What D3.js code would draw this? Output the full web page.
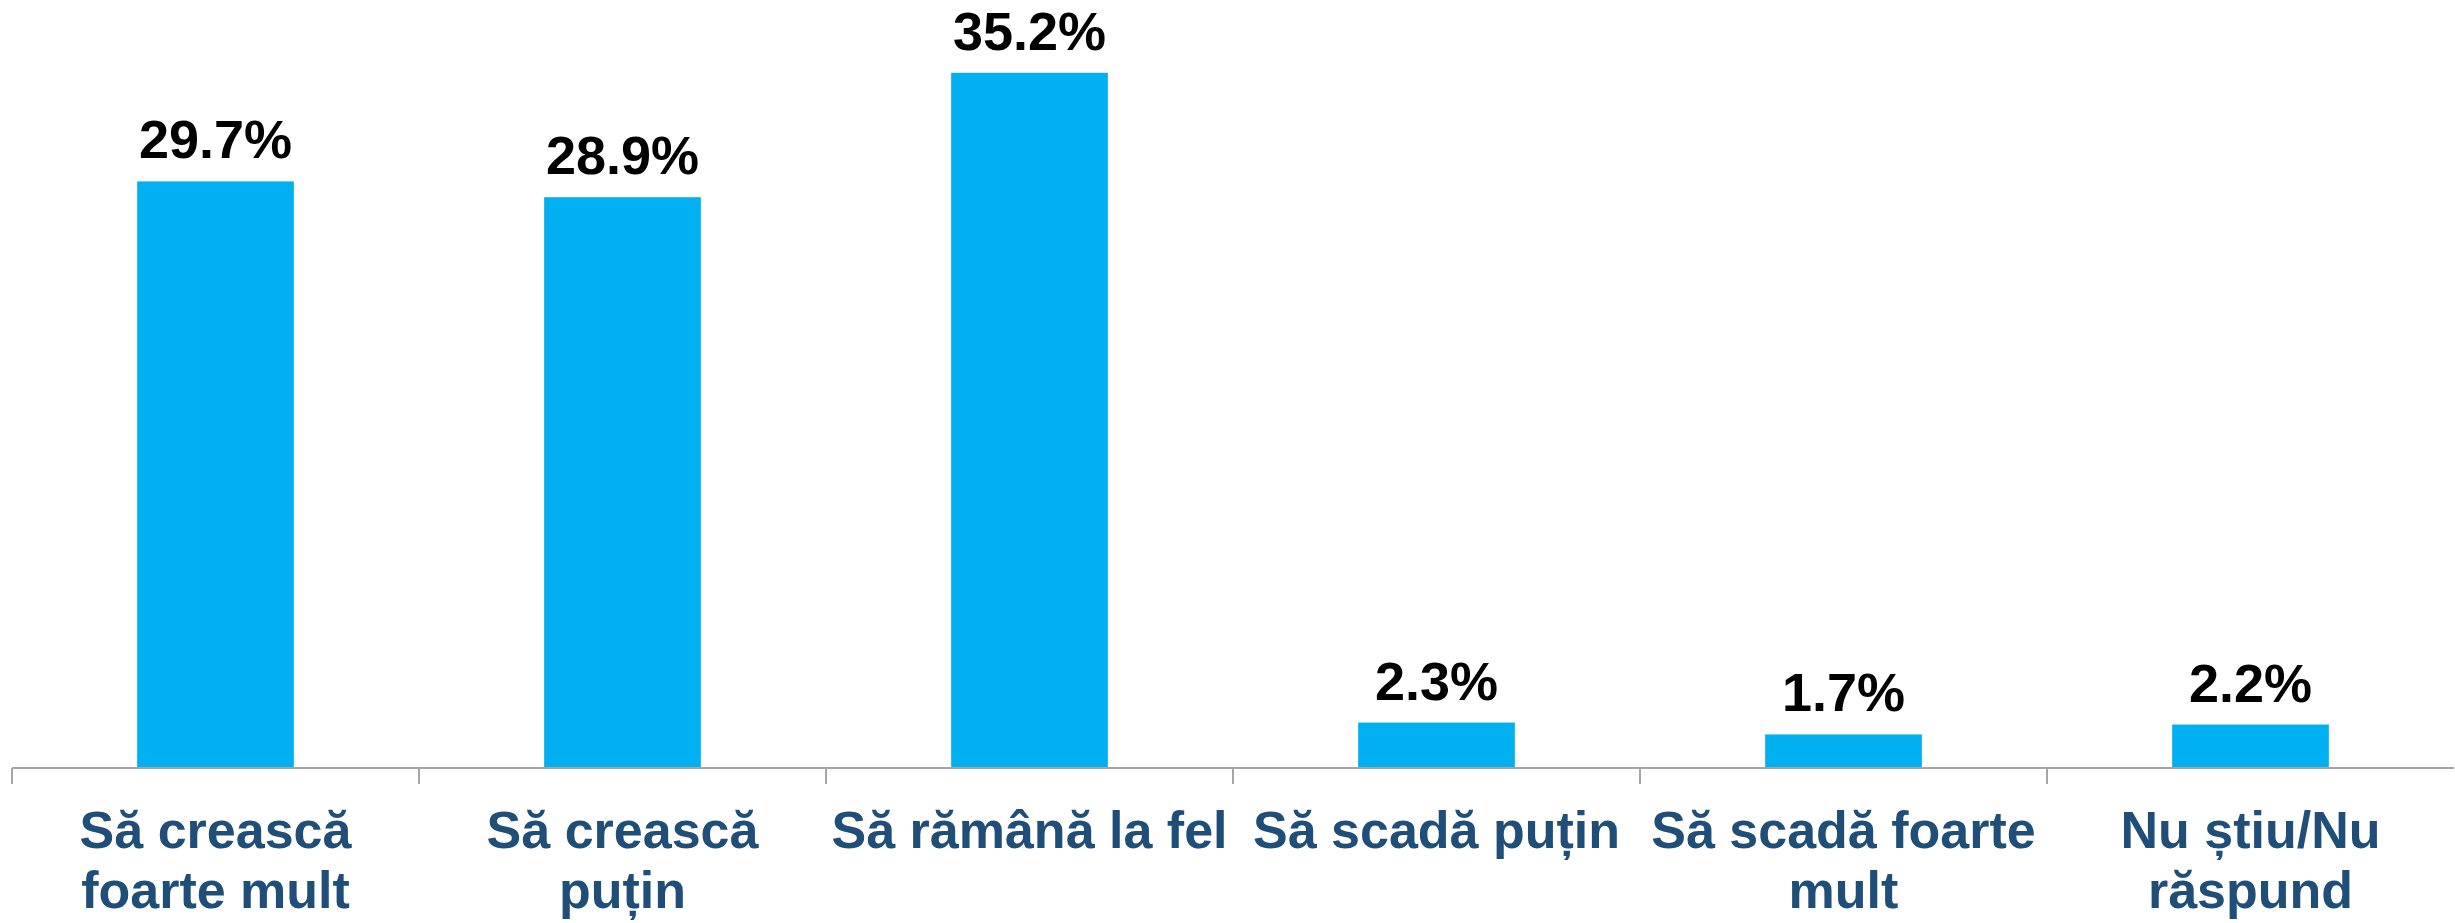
<!DOCTYPE html>
<html>
<head>
<meta charset="utf-8">
<script src="https://cdn.jsdelivr.net/npm/d3@7"></script>
<style>
  body { margin: 0; background: #fff; }
  text { font-family: "Liberation Sans", Arial, sans-serif; font-weight: bold; }
</style>
</head>
<body>
<div id="chart-area"></div>
<script>
// Data
var categories = ["Să crească\nfoarte mult", "Să crească\npuțin", "Să rămână la fel",
    "Să scadă puțin", "Să scadă foarte\nmult", "Nu știu/Nu\nrăspund"];
var values = [29.7, 28.9, 35.2, 2.3, 1.7, 2.2];

var width = 2455, height = 923;
var axisY = 768;

var svg = d3.select("#chart-area").append("svg")
    .attr("width", width)
    .attr("height", height);

// Scales
var x = d3.scaleBand()
    .domain(categories)
    .range([12, 2454])
    .padding(0);

var y = d3.scaleLinear()
    .domain([0, 40])
    .range([axisY, axisY - 40 * 19.75]);

var barW = x.bandwidth() * 0.385;

// Bars
svg.selectAll(".bar")
    .data(values)
    .enter().append("rect")
    .attr("class", "bar")
    .attr("x", function(d, i){ return x(categories[i]) + (x.bandwidth() - barW) / 2; })
    .attr("y", function(d){ return y(d); })
    .attr("width", barW)
    .attr("height", function(d){ return y(0) - y(d); })
    .attr("fill", "#00B0F0");

// Value labels
svg.selectAll(".val")
    .data(values)
    .enter().append("text")
    .attr("class", "val")
    .attr("x", function(d, i){ return x(categories[i]) + x.bandwidth() / 2; })
    .attr("y", function(d){ return y(d) - 23; })
    .attr("text-anchor", "middle")
    .attr("font-size", "54px")
    .attr("fill", "#000")
    .text(function(d){ return d.toFixed(1) + "%"; });

// Axis line and ticks at band edges
svg.append("line")
    .attr("x1", x.range()[0]).attr("x2", x.range()[1])
    .attr("y1", axisY).attr("y2", axisY)
    .attr("stroke", "#a6a6a6")
    .attr("stroke-width", 2);

svg.selectAll(".tick")
    .data(categories)
    .enter().append("line")
    .attr("class", "tick")
    .attr("x1", function(d){ return x(d); })
    .attr("x2", function(d){ return x(d); })
    .attr("y1", axisY).attr("y2", axisY + 16)
    .attr("stroke", "#a6a6a6")
    .attr("stroke-width", 2);

// Category labels
var cat = svg.selectAll(".cat")
    .data(categories)
    .enter().append("text")
    .attr("class", "cat")
    .attr("text-anchor", "middle")
    .attr("font-size", "52px")
    .attr("fill", "#1F4E79");

cat.each(function(d){
    var el = d3.select(this);
    var cx = x(d) + x.bandwidth() / 2;
    d.split("\n").forEach(function(line, j){
        el.append("tspan")
            .attr("x", cx)
            .attr("y", 848 + j * 60)
            .text(line);
    });
});
</script>
</body>
</html>
